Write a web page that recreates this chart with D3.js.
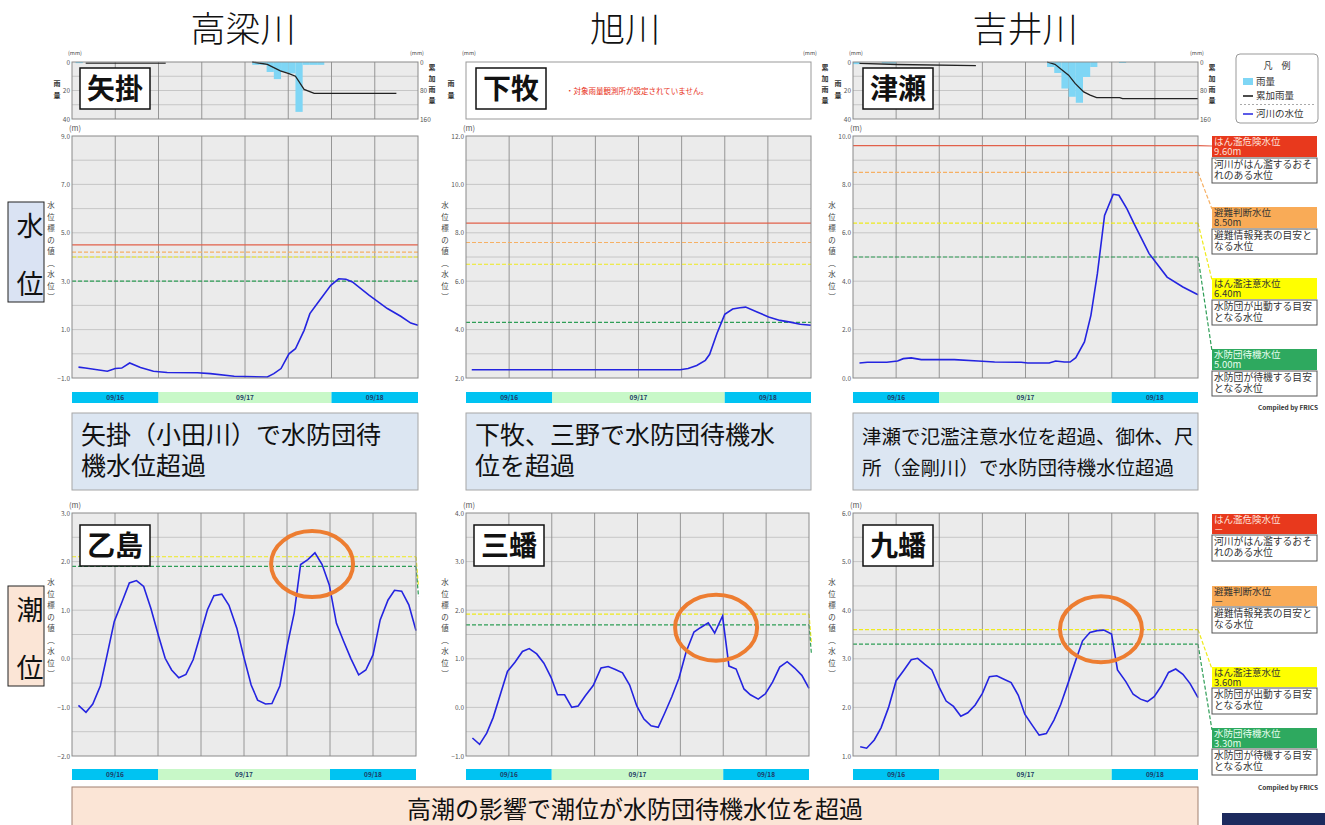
<!DOCTYPE html>
<html>
<head>
<meta charset="utf-8">
<script src="https://cdn.jsdelivr.net/npm/d3@7"></script>
<style>
body { margin: 0; background: #fff; }
svg { display: block; }
</style>
</head>
<body>
<svg id="chart" width="1325" height="825"></svg>
<script>
// ---- data ----
const riverNames = ["高梁川", "旭川", "吉井川"];
const riverStations = ["矢掛", "下牧", "津瀬"];
const tideStations = ["乙島", "三蟠", "九蟠"];

const hourTicks = [0, 12, 24, 36, 48];
const hourLabels = ["12:00", "24:00", "12:00", "24:00", "12:00"];
const dayNames = ["09/16", "09/17", "09/18"];
const dayStarts = [0, 12, 36];
const dayEnds = [12, 36, 48];

// [hour from 09/16 12:00, level m]
const yakakeLevel = [[0.9,-0.55],[1.85,-0.59],[4.9,-0.72],[6,-0.61],[6.9,-0.59],[8,-0.38],[9.5,-0.57],[11.3,-0.72],[13.2,-0.77],[17.4,-0.78],[19.2,-0.82],[22.5,-0.93],[27.1,-0.96],[28,-0.82],[29,-0.61],[30.1,0.0],[31,0.21],[32.2,0.97],[33,1.66],[34,2.07],[35.9,2.83],[37,3.1],[38,3.08],[38.9,2.97],[41.2,2.42],[43.75,1.87],[45.6,1.55],[47,1.27],[48,1.18]];
const shimomakiLevel = [[0.8,2.34],[29.8,2.34],[30.9,2.39],[32.1,2.52],[33.3,2.73],[33.9,2.98],[34.9,3.83],[36,4.63],[37.1,4.85],[38.1,4.9],[38.9,4.93],[40.5,4.73],[42.1,4.52],[43.7,4.38],[45.1,4.31],[46.5,4.22],[48,4.18]];
const tsuseLevel = [[0.9,0.62],[2,0.65],[4.7,0.65],[6.2,0.7],[7,0.8],[8.1,0.83],[9.5,0.76],[14.1,0.76],[17.4,0.7],[19.7,0.66],[23.4,0.65],[24.3,0.62],[27.3,0.62],[28.2,0.7],[29.4,0.66],[30.2,0.66],[31,0.84],[32.2,1.49],[33.1,2.59],[34,4.31],[35,6.72],[36.2,7.59],[37,7.55],[38.1,7.0],[39.1,6.38],[41.2,5.14],[43.7,4.17],[45.9,3.76],[48,3.44]];

const otoshimaLevel = [[0.9,-0.96],[1.95,-1.1],[2.9,-0.93],[3.95,-0.56],[4.9,0.08],[5.9,0.77],[7,1.18],[8,1.56],[9,1.61],[10,1.49],[11,1.04],[12.1,0.46],[13,0.01],[13.9,-0.23],[14.9,-0.39],[15.9,-0.32],[16.9,-0.02],[17.9,0.49],[18.9,1.01],[19.8,1.3],[20.9,1.33],[21.9,1.1],[23,0.63],[23.9,0.08],[25,-0.54],[25.9,-0.85],[27,-0.93],[27.9,-0.92],[29,-0.56],[30,0.25],[31,0.94],[31.9,1.94],[32.9,2.04],[33.9,2.18],[34.9,1.94],[35.9,1.52],[36.9,0.73],[37.9,0.36],[38.9,0.01],[40,-0.33],[41,-0.23],[42,0.08],[43,0.8],[44.1,1.21],[45,1.41],[46,1.39],[47,1.11],[48,0.58]];
const sanbanLevel = [[0.9,-0.63],[1.9,-0.76],[2.9,-0.53],[3.8,-0.21],[4.9,0.31],[5.8,0.74],[6.85,0.93],[7.9,1.15],[8.85,1.21],[9.9,1.1],[10.9,0.91],[11.9,0.62],[12.8,0.26],[13.8,0.26],[14.8,0.0],[15.7,0.03],[16.7,0.24],[17.8,0.45],[18.9,0.81],[19.9,0.84],[20.9,0.78],[21.9,0.71],[22.9,0.46],[23.9,0.03],[24.9,-0.24],[25.9,-0.38],[26.9,-0.41],[27.8,-0.12],[28.8,0.22],[29.8,0.6],[30.8,1.14],[31.9,1.55],[32.8,1.64],[33.9,1.74],[34.8,1.53],[35.9,1.88],[36.8,0.85],[37.8,0.79],[38.9,0.38],[39.8,0.26],[40.9,0.17],[41.9,0.28],[42.9,0.52],[43.9,0.83],[44.95,0.94],[46,0.81],[47,0.66],[48,0.39]];
const kubanLevel = [[1,1.19],[1.9,1.16],[2.96,1.33],[3.9,1.58],[4.95,2.0],[6,2.55],[7,2.75],[8.1,2.98],[9,3.01],[9.95,2.89],[10.97,2.77],[12,2.41],[12.96,2.13],[13.98,2.02],[15,1.82],[15.97,1.89],[17,2.05],[18,2.29],[18.98,2.63],[20,2.65],[21,2.58],[22,2.51],[23,2.25],[23.9,1.86],[25,1.62],[25.9,1.43],[26.9,1.46],[27.96,1.74],[28.9,2.06],[29.95,2.51],[30.97,2.96],[31.94,3.37],[32.96,3.54],[33.98,3.58],[34.9,3.59],[35.97,3.51],[36.8,2.77],[37.96,2.53],[38.98,2.27],[40,2.17],[40.97,2.12],[41.9,2.22],[42.9,2.44],[43.9,2.72],[44.9,2.79],[45.9,2.68],[46.9,2.49],[48,2.2]];

// hourly rain [start hour, mm] and cumulative rain [hour, mm]
const yakakeRain = [[0.5,0.8],[25,2],[26,2],[27,7],[28,12],[29,7],[30,8],[31,35],[32,2],[33,2],[34,2]];
const yakakeCum = [[[1.9,3],[13,3]], [[25,0],[27.1,6.5],[28.9,25],[30.1,32.6],[31,40],[32.2,77],[33.6,88],[45,88]]];
const tsuseRain = [[0,1.5],[4,1],[5,1],[27,3.5],[28,7.7],[29,18.6],[30,24.4],[31,28.6],[32,10.5],[33,3.5],[37,0.7]];
const tsuseCum = [[[0.9,4],[6.2,7],[17.1,10]], [[27,0],[28.1,6.5],[29,21],[30,37],[30.9,60],[32.1,84],[33,93],[33.9,100],[37.1,100],[37.5,103],[48,103]]];

// threshold levels: danger, evacuation, caution, standby
const riverThresholds = [[4.5, 4.2, 4.0, 3.0], [8.4, 7.6, 6.7, 4.3], [9.6, 8.5, 6.4, 5.0]];
const tideThresholds = [[null, null, 2.1, 1.9], [null, null, 1.92, 1.7], [null, null, 3.6, 3.3]];

const levelNames = ["はん濫危険水位", "避難判断水位", "はん濫注意水位", "水防団待機水位"];
const levelNotes = [["河川がはん濫するおそ", "れのある水位"], ["避難情報発表の目安と", "なる水位"], ["水防団が出動する目安", "となる水位"], ["水防団が待機する目安", "となる水位"]];
const tsuseValues = ["9.60m", "8.50m", "6.40m", "5.00m"];
const kubanValues = ["－", "－", "3.60m", "3.30m"];

const highlightHours = [33.5, 35.0, 34.5];
const highlightLevels = [1.95, 1.64, 3.61];

const riverNotes = [["矢掛（小田川）で水防団待", "機水位超過"], ["下牧、三野で水防団待機水", "位を超過"], ["津瀬で氾濫注意水位を超過、御休、尺", "所（金剛川）で水防団待機水位超過"]];
const tideNote = "高潮の影響で潮位が水防団待機水位を超過";

// ---- layout ----
const FONT = '"Noto Sans CJK JP", "Noto Sans", sans-serif';
const svg = d3.select("#chart");
const thColors = ["#e2604a", "#f6b064", "#eeea1c", "#2f9e57"];
const boxColors = ["#e8391d", "#f9ab57", "#ffff00", "#2ea95f"];
const boxText = ["#fde0da", "#333", "#333", "#e8fff0"];
const lineBlue = "#2424e0";

const cols = [
    {x0: 72, x1: 418, bx1: 416, titleX: 243},
    {x0: 466, x1: 811, bx1: 809, titleX: 625},
    {x0: 853, x1: 1198, bx1: 1198, titleX: 1025}
];
const riverY = [136, 378], tideY = [513, 756], rainY = [62, 119];

function vText(g, chars, x, y, step, size, color, weight) {
    g.append("g").selectAll("text").data(chars).join("text")
        .attr("x", x).attr("y", (d, i) => y + i * step)
        .attr("text-anchor", "middle")
        .attr("font-family", FONT).attr("font-size", size)
        .attr("font-weight", weight || "normal")
        .attr("fill", color).text(d => d);
}

function styleAxis(g) {
    g.select(".domain").remove();
    g.selectAll("text").attr("font-family", FONT).attr("font-size", 6.5).attr("fill", "#555");
}

function stationBox(g, x, y, name) {
    g.append("rect").attr("x", x).attr("y", y).attr("width", 70).attr("height", 41)
        .attr("fill", "#fff").attr("stroke", "#111").attr("stroke-width", 1.5);
    g.append("text").attr("x", x + 35).attr("y", y + 31).attr("text-anchor", "middle")
        .attr("font-family", FONT).attr("font-weight", "bold").attr("font-size", 28)
        .attr("fill", "#111").text(name);
}

function levelPanel(p, idx) {
    const g = svg.append("g");
    const x = d3.scaleLinear().domain([0, 48]).range([p.x0, p.x1]);
    const y = d3.scaleLinear().domain(p.domain).range([p.y1, p.y0]);

    g.append("rect").attr("x", p.x0).attr("y", p.y0)
        .attr("width", p.x1 - p.x0).attr("height", p.y1 - p.y0).attr("fill", "#ebebeb");

    g.append("g").selectAll("line")
        .data(d3.range(p.domain[0] + p.gridStep, p.domain[1] - 1e-6, p.gridStep))
        .join("line")
        .attr("x1", p.x0).attr("x2", p.x1)
        .attr("y1", d => y(d)).attr("y2", d => y(d))
        .attr("stroke", "#bdbdbd").attr("stroke-width", 0.8);
    g.append("g").selectAll("line").data(d3.range(6, 48, 6)).join("line")
        .attr("x1", d => x(d)).attr("x2", d => x(d))
        .attr("y1", p.y0).attr("y2", p.y1)
        .attr("stroke", "#8c8c8c").attr("stroke-width", 0.9);

    // threshold lines (plus leaders out to the legend)
    p.thresholds.forEach((t, i) => {
        if (t === null) return;
        g.append("line").attr("x1", p.x0).attr("x2", p.x1)
            .attr("y1", y(t)).attr("y2", y(t))
            .attr("stroke", thColors[i]).attr("stroke-width", 1.2)
            .attr("stroke-dasharray", i === 0 ? null : "4,2");
        if (p.leaders) {
            g.append("line").attr("x1", p.x1).attr("y1", y(t))
                .attr("x2", 1212).attr("y2", p.leaders[i] + (i === 0 ? 10 : 2))
                .attr("stroke", thColors[i]).attr("stroke-width", 1.2)
                .attr("stroke-dasharray", i === 0 ? null : "4,2");
        } else if (p.stubs) {
            g.append("line").attr("x1", p.x1).attr("y1", y(t))
                .attr("x2", p.x1 + 2.5).attr("y2", y(t) + 30)
                .attr("stroke", thColors[i]).attr("stroke-width", 1.2)
                .attr("stroke-dasharray", "4,2");
        }
    });

    g.append("path").datum(p.series)
        .attr("d", d3.line().x(d => x(d[0])).y(d => y(d[1])))
        .attr("fill", "none").attr("stroke", lineBlue).attr("stroke-width", 1.6);

    g.append("rect").attr("x", p.x0).attr("y", p.y0)
        .attr("width", p.x1 - p.x0).attr("height", p.y1 - p.y0)
        .attr("fill", "none").attr("stroke", "#8a8a8a");

    g.append("g").attr("transform", `translate(${p.x0},0)`)
        .call(d3.axisLeft(y).tickValues(d3.range(p.domain[0], p.domain[1] + 1e-6, p.labelStep))
            .tickFormat(d3.format(".1f")).tickSize(0).tickPadding(2))
        .call(styleAxis);

    const clipId = "clip" + idx;
    svg.append("clipPath").attr("id", clipId).append("rect")
        .attr("x", p.x0 - 30).attr("y", p.y1).attr("width", p.x1 - p.x0 + 30 + p.labelRoom).attr("height", 14);
    g.append("g").attr("transform", `translate(0,${p.y1})`).attr("clip-path", `url(#${clipId})`)
        .call(d3.axisBottom(x).tickValues(hourTicks).tickFormat((d, i) => hourLabels[i])
            .tickSize(0).tickPadding(3))
        .call(styleAxis);

    g.append("text").attr("x", p.x0 - 3).attr("y", p.y0 - 5)
        .attr("font-family", FONT).attr("font-size", 7.5).attr("fill", "#555").text("(m)");
    vText(g, ["水", "位", "標", "の", "値", "︵", "水", "位", "︶"], p.x0 - 21, p.y0 + 72, 11.5, 7.5, "#444");

    // date strip
    const dg = g.append("g");
    dayNames.forEach((d, i) => {
        dg.append("rect").attr("x", x(dayStarts[i])).attr("y", p.dateY)
            .attr("width", x(dayEnds[i]) - x(dayStarts[i])).attr("height", 11)
            .attr("fill", i === 1 ? "#c8f8c8" : "#00c3f2");
        dg.append("text").attr("x", (x(dayStarts[i]) + x(dayEnds[i])) / 2).attr("y", p.dateY + 8)
            .attr("text-anchor", "middle").attr("font-family", FONT).attr("font-size", 6.5)
            .attr("font-weight", "bold").attr("fill", "#1d3c66").text(d);
    });

    if (p.station) stationBox(g, p.x0 + (idx % 3 === 2 ? 10 : 8), p.y0 + 12, p.station);

    if (p.highlight) {
        g.append("ellipse").attr("cx", x(p.highlight[0])).attr("cy", y(p.highlight[1]))
            .attr("rx", 41).attr("ry", 33)
            .attr("fill", "none").attr("stroke", "#ed7d31").attr("stroke-width", 4);
    }
    return {x, y};
}

function rainLabels(g, c) {
    [c.x0 - 4, c.x1 - 8].forEach(xx => {
        g.append("text").attr("x", xx).attr("y", 55).attr("font-family", FONT)
            .attr("font-size", 5.5).attr("fill", "#444").text("(mm)");
    });
    vText(g, ["雨", "量"], c.x0 - 15, 86, 12, 7, "#333", "bold");
    vText(g, ["累", "加", "雨", "量"], c.x1 + 14, 70, 11, 7, "#333", "bold");
}

function rainPanel(c, rain, cum, idx) {
    const g = svg.append("g");
    const x = d3.scaleLinear().domain([0, 48]).range([c.x0, c.x1]);
    const y = d3.scaleLinear().domain([0, 40]).range([rainY[0], rainY[1]]);
    const yc = d3.scaleLinear().domain([0, 160]).range([rainY[0], rainY[1]]);

    g.append("rect").attr("x", c.x0).attr("y", rainY[0])
        .attr("width", c.x1 - c.x0).attr("height", rainY[1] - rainY[0]).attr("fill", "#ebebeb");
    g.append("g").selectAll("line").data([10, 20, 30]).join("line")
        .attr("x1", c.x0).attr("x2", c.x1).attr("y1", d => y(d)).attr("y2", d => y(d))
        .attr("stroke", "#bdbdbd").attr("stroke-width", 0.8);
    g.append("g").selectAll("line").data(d3.range(6, 48, 6)).join("line")
        .attr("x1", d => x(d)).attr("x2", d => x(d)).attr("y1", rainY[0]).attr("y2", rainY[1])
        .attr("stroke", "#8c8c8c").attr("stroke-width", 0.9);

    g.append("g").selectAll("rect").data(rain).join("rect")
        .attr("x", d => x(d[0])).attr("y", rainY[0])
        .attr("width", d => x(d[0] + 1) - x(d[0])).attr("height", d => y(d[1]) - rainY[0])
        .attr("fill", "#7fd6f5");

    cum.forEach(seg => {
        g.append("path").datum(seg)
            .attr("d", d3.line().x(d => x(d[0])).y(d => yc(d[1])))
            .attr("fill", "none").attr("stroke", "#222").attr("stroke-width", 1.3);
    });

    g.append("rect").attr("x", c.x0).attr("y", rainY[0])
        .attr("width", c.x1 - c.x0).attr("height", rainY[1] - rainY[0])
        .attr("fill", "none").attr("stroke", "#8a8a8a");

    g.append("g").attr("transform", `translate(${c.x0},0)`)
        .call(d3.axisLeft(y).tickValues([0, 20, 40]).tickSize(0).tickPadding(2)).call(styleAxis);
    g.append("g").attr("transform", `translate(${c.x1},0)`)
        .call(d3.axisRight(yc).tickValues([0, 80, 160]).tickSize(0).tickPadding(2)).call(styleAxis);
    rainLabels(g, c);
    stationBox(g, c.x0 + (idx === 2 ? 10 : 8), 68, riverStations[idx]);
}

// ---- titles ----
riverNames.forEach((n, i) => {
    svg.append("text").attr("x", cols[i].titleX).attr("y", 42).attr("text-anchor", "middle")
        .attr("font-family", FONT).attr("font-weight", 300).attr("font-size", 35)
        .attr("fill", "#111").text(n);
});

// ---- rain charts ----
rainPanel(cols[0], yakakeRain, yakakeCum, 0);
rainPanel(cols[2], tsuseRain, tsuseCum, 2);
(function () {
    const c = cols[1];
    const g = svg.append("g");
    g.append("rect").attr("x", c.x0).attr("y", rainY[0])
        .attr("width", c.x1 - c.x0).attr("height", rainY[1] - rainY[0])
        .attr("fill", "#fff").attr("stroke", "#999");
    g.append("text").attr("x", c.x0 + 100).attr("y", 94).attr("font-family", FONT)
        .attr("font-size", 7.5).attr("fill", "#e83020").text("・対象雨量観測所が設定されていません。");
    rainLabels(g, c);
    stationBox(g, c.x0 + 10, 68, riverStations[1]);
})();

// ---- water level charts ----
const riverDomains = [[-1, 9], [2, 12], [0, 10]];
const riverSeries = [yakakeLevel, shimomakiLevel, tsuseLevel];
const tideDomains = [[-2, 3], [-1, 4], [1, 6]];
const tideSeries = [otoshimaLevel, sanbanLevel, kubanLevel];
const topLegendTops = [136, 207, 278, 349];
const tideLegendTops = [514, 586, 667, 728];

cols.forEach((c, i) => {
    levelPanel({
        x0: c.x0, x1: c.x1, y0: riverY[0], y1: riverY[1], domain: riverDomains[i],
        labelStep: 2, gridStep: 1, thresholds: riverThresholds[i], series: riverSeries[i],
        dateY: 392, labelRoom: i === 2 ? 20 : 3,
        leaders: i === 2 ? topLegendTops : null
    }, i);
});
cols.forEach((c, i) => {
    levelPanel({
        x0: c.x0, x1: c.bx1, y0: tideY[0], y1: tideY[1], domain: tideDomains[i],
        labelStep: 1, gridStep: 0.5, thresholds: tideThresholds[i], series: tideSeries[i],
        station: tideStations[i], dateY: 769, labelRoom: i === 2 ? 20 : 3,
        leaders: i === 2 ? tideLegendTops : null, stubs: i < 2,
        highlight: [highlightHours[i], highlightLevels[i]]
    }, i + 3);
});

// ---- level legend boxes ----
function levelLegend(tops, values, colorH, noteH) {
    tops.forEach((t, i) => {
        svg.append("rect").attr("x", 1212).attr("y", t).attr("width", 105).attr("height", colorH)
            .attr("fill", boxColors[i]);
        svg.append("text").attr("x", 1214).attr("y", t + 9).attr("font-family", FONT)
            .attr("font-size", 9.5).attr("fill", boxText[i]).text(levelNames[i]);
        svg.append("text").attr("x", 1214).attr("y", t + 19).attr("font-family", FONT)
            .attr("font-size", 9.5).attr("fill", boxText[i]).text(values[i]);
        const nt = t + colorH + 1;
        svg.append("rect").attr("x", 1212).attr("y", nt).attr("width", 105).attr("height", noteH)
            .attr("fill", "#fff").attr("stroke", "#555");
        levelNotes[i].forEach((s, j) => {
            svg.append("text").attr("x", 1214).attr("y", nt + 10 + j * 11).attr("font-family", FONT)
                .attr("font-size", 9.8).attr("fill", "#333").text(s);
        });
    });
}
levelLegend(topLegendTops, tsuseValues, 21, 25);
levelLegend(tideLegendTops, kubanValues, 20, 26);

[410, 790].forEach(yy => {
    svg.append("text").attr("x", 1318).attr("y", yy).attr("text-anchor", "end")
        .attr("font-family", FONT).attr("font-size", 6.5).attr("font-weight", "bold")
        .attr("fill", "#333").text("Compiled by FRICS");
});

// ---- 凡例 box ----
(function () {
    const g = svg.append("g");
    g.append("rect").attr("x", 1236).attr("y", 54).attr("width", 82).attr("height", 69).attr("rx", 4)
        .attr("fill", "#fff").attr("stroke", "#999");
    g.append("text").attr("x", 1277).attr("y", 69).attr("text-anchor", "middle")
        .attr("font-family", FONT).attr("font-size", 9).attr("fill", "#333").text("凡　例");
    g.append("rect").attr("x", 1243).attr("y", 78).attr("width", 10).attr("height", 7).attr("fill", "#7fd6f5");
    g.append("line").attr("x1", 1243).attr("x2", 1253).attr("y1", 96).attr("y2", 96)
        .attr("stroke", "#111").attr("stroke-width", 1.5);
    g.append("line").attr("x1", 1240).attr("x2", 1314).attr("y1", 104.5).attr("y2", 104.5)
        .attr("stroke", "#aaa").attr("stroke-dasharray", "2,2");
    g.append("line").attr("x1", 1243).attr("x2", 1253).attr("y1", 114).attr("y2", 114)
        .attr("stroke", lineBlue).attr("stroke-width", 1.5);
    [["雨量", 85], ["累加雨量", 99], ["河川の水位", 117]].forEach(d => {
        g.append("text").attr("x", 1256).attr("y", d[1]).attr("font-family", FONT)
            .attr("font-size", 9.5).attr("fill", "#333").text(d[0]);
    });
})();

// ---- left side labels ----
[["水", "位", 202, "#dae3f3"], ["潮", "位", 586, "#fbe5d6"]].forEach(d => {
    svg.append("rect").attr("x", 8).attr("y", d[2]).attr("width", 36).attr("height", 100)
        .attr("fill", d[3]).attr("stroke", "#222");
    svg.append("text").attr("x", 30).attr("y", d[2] + 34).attr("text-anchor", "middle")
        .attr("font-family", FONT).attr("font-size", 27).attr("fill", "#111").text(d[0]);
    svg.append("text").attr("x", 30).attr("y", d[2] + 92).attr("text-anchor", "middle")
        .attr("font-family", FONT).attr("font-size", 27).attr("fill", "#111").text(d[1]);
});

// ---- note boxes ----
const noteSizes = [25, 25, 19.5];
cols.forEach((c, i) => {
    svg.append("rect").attr("x", c.x0).attr("y", 413).attr("width", c.x1 - c.x0).attr("height", 77)
        .attr("fill", "#dce6f2").attr("stroke", "#a6a6a6");
    riverNotes[i].forEach((s, j) => {
        svg.append("text").attr("x", c.x0 + 9).attr("y", 444 + j * 31)
            .attr("font-family", FONT).attr("font-size", noteSizes[i]).attr("fill", "#111").text(s);
    });
});

svg.append("rect").attr("x", 72).attr("y", 787).attr("width", 1126).attr("height", 45)
    .attr("fill", "#fbe5d6").attr("stroke", "#a08070");
svg.append("text").attr("x", 635).attr("y", 818).attr("text-anchor", "middle")
    .attr("font-family", FONT).attr("font-size", 24).attr("fill", "#111").text(tideNote);

svg.append("rect").attr("x", 1222).attr("y", 813).attr("width", 103).attr("height", 12).attr("fill", "#1c2a5e");
</script>
</body>
</html>
